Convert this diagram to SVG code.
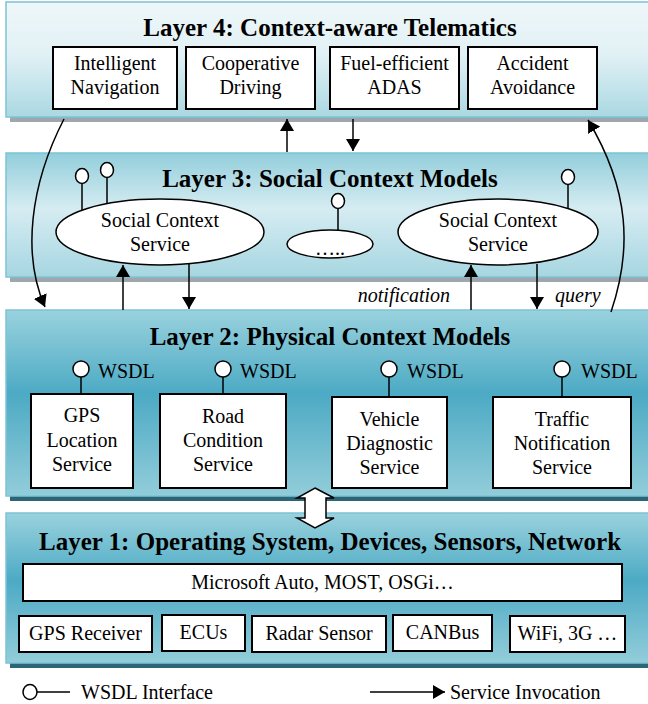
<svg xmlns="http://www.w3.org/2000/svg" width="648" height="704" viewBox="0 0 648 704">
  <defs>
    <linearGradient id="gLight" x1="0" y1="0" x2="0" y2="1">
      <stop offset="0" stop-color="#eef7f9"/>
      <stop offset="0.45" stop-color="#e2f1f5"/>
      <stop offset="1" stop-color="#aad8e2"/>
    </linearGradient>
    <linearGradient id="gMid" x1="0" y1="0" x2="0" y2="1">
      <stop offset="0" stop-color="#92cedb"/>
      <stop offset="0.45" stop-color="#d6ecf2"/>
      <stop offset="1" stop-color="#a6d6e1"/>
    </linearGradient>
    <linearGradient id="gDeep" x1="0" y1="0" x2="0" y2="1">
      <stop offset="0" stop-color="#9ad2de"/>
      <stop offset="0.45" stop-color="#4caac4"/>
      <stop offset="1" stop-color="#93cdda"/>
    </linearGradient>
    <marker id="head" viewBox="0 0 12 14" refX="12" refY="7" markerWidth="12" markerHeight="14" markerUnits="userSpaceOnUse" orient="auto">
      <path d="M0,0 L12,7 L0,14 z" fill="#000"/>
    </marker>
  </defs>
  <style>
    .panel { stroke: #7cc4d5; stroke-width: 1.5; }
    .shadowGrey { fill: #9ea7ac; }
    .shadowDark { fill: #2c6676; }
    .box { fill: #fff; stroke: #000; stroke-width: 2; }
    .oval { fill: #fff; stroke: #000; stroke-width: 1.5; }
    .pin { fill: #fff; stroke: #000; stroke-width: 1.5; }
    .stem { stroke: #000; stroke-width: 1.5; fill: none; }
    .title { font-family: "Liberation Serif", "Times New Roman", serif; font-weight: bold; font-size: 25px; text-anchor: middle; fill: #000; }
    .txt { font-family: "Liberation Serif", "Times New Roman", serif; font-size: 20px; text-anchor: middle; fill: #000; }
    .lbl { font-family: "Liberation Serif", "Times New Roman", serif; font-size: 20px; fill: #000; }
    .it { font-family: "Liberation Serif", "Times New Roman", serif; font-size: 20px; font-style: italic; fill: #000; }
    .conn { stroke: #000; stroke-width: 1.5; fill: none; marker-end: url(#head); }
  </style>

  <rect width="648" height="704" fill="#fff"/>

  <!-- Layer 4 -->
  <g id="layer4">
    <rect class="shadowGrey" x="10" y="117" width="640" height="5"/>
    <rect class="panel" x="6" y="2" width="650" height="115" fill="url(#gLight)"/>
    <text class="title" x="330" y="36">Layer 4: Context-aware Telematics</text>
  </g>
  <g id="intelligent-navigation">
    <rect class="box" x="53" y="47" width="124" height="62"/>
    <text class="txt" x="115" y="70">Intelligent</text>
    <text class="txt" x="115" y="94">Navigation</text>
  </g>
  <g id="cooperative-driving">
    <rect class="box" x="186" y="47" width="129" height="62"/>
    <text class="txt" x="250.5" y="70">Cooperative</text>
    <text class="txt" x="250.5" y="94">Driving</text>
  </g>
  <g id="fuel-efficient-adas">
    <rect class="box" x="330" y="47" width="129" height="62"/>
    <text class="txt" x="394.5" y="70">Fuel-efficient</text>
    <text class="txt" x="394.5" y="94">ADAS</text>
  </g>
  <g id="accident-avoidance">
    <rect class="box" x="468" y="47" width="129" height="62"/>
    <text class="txt" x="532.5" y="70">Accident</text>
    <text class="txt" x="532.5" y="94">Avoidance</text>
  </g>

  <!-- Layer 3 -->
  <g id="layer3">
    <rect class="shadowGrey" x="10" y="277" width="640" height="5"/>
    <rect class="panel" x="6" y="153" width="650" height="124" fill="url(#gMid)"/>
    <text class="title" x="330" y="187">Layer 3: Social Context Models</text>
  </g>
  <g id="social-service-left">
    <line class="stem" x1="82" y1="183.5" x2="82" y2="210"/>
    <line class="stem" x1="107" y1="177.5" x2="107" y2="204"/>
    <ellipse class="pin" cx="82" cy="176" rx="6.5" ry="7.5"/>
    <ellipse class="pin" cx="107" cy="170" rx="6.5" ry="7.5"/>
    <ellipse class="oval" cx="160" cy="232" rx="104" ry="33"/>
    <text class="txt" x="160" y="227">Social Context</text>
    <text class="txt" x="160" y="251">Service</text>
  </g>
  <g id="social-service-more">
    <line class="stem" x1="338" y1="208.5" x2="338" y2="230.5"/>
    <ellipse class="pin" cx="338" cy="201" rx="6.5" ry="7.5"/>
    <ellipse class="oval" cx="330" cy="244" rx="43" ry="14"/>
    <text class="txt" x="330" y="255">…..</text>
  </g>
  <g id="social-service-right">
    <line class="stem" x1="568" y1="184.5" x2="568" y2="208.5"/>
    <ellipse class="pin" cx="568" cy="177" rx="6.5" ry="7.5"/>
    <ellipse class="oval" cx="498" cy="232" rx="100" ry="33"/>
    <text class="txt" x="498" y="227">Social Context</text>
    <text class="txt" x="498" y="251">Service</text>
  </g>

  <!-- Layer 2 -->
  <g id="layer2">
    <rect class="shadowDark" x="10" y="496" width="640" height="5"/>
    <rect class="panel" x="6" y="310" width="650" height="186" fill="url(#gDeep)"/>
    <text class="title" x="330" y="345">Layer 2: Physical Context Models</text>
  </g>
  <g id="gps-location-service">
    <line class="stem" x1="81" y1="377" x2="81" y2="394"/>
    <circle class="pin" cx="81" cy="369" r="8"/>
    <text class="lbl" x="98" y="378">WSDL</text>
    <rect class="box" x="31" y="394" width="102" height="94"/>
    <text class="txt" x="82" y="422">GPS</text>
    <text class="txt" x="82" y="447">Location</text>
    <text class="txt" x="82" y="471">Service</text>
  </g>
  <g id="road-condition-service">
    <line class="stem" x1="223" y1="377" x2="223" y2="394"/>
    <circle class="pin" cx="223" cy="369" r="8"/>
    <text class="lbl" x="240" y="378">WSDL</text>
    <rect class="box" x="160" y="394" width="126" height="94"/>
    <text class="txt" x="223" y="423">Road</text>
    <text class="txt" x="223" y="447">Condition</text>
    <text class="txt" x="223" y="471">Service</text>
  </g>
  <g id="vehicle-diagnostic-service">
    <line class="stem" x1="389" y1="377" x2="389" y2="397"/>
    <circle class="pin" cx="389" cy="369" r="8"/>
    <text class="lbl" x="407" y="378">WSDL</text>
    <rect class="box" x="332" y="397" width="115" height="91"/>
    <text class="txt" x="389.5" y="426">Vehicle</text>
    <text class="txt" x="389.5" y="450">Diagnostic</text>
    <text class="txt" x="389.5" y="474">Service</text>
  </g>
  <g id="traffic-notification-service">
    <line class="stem" x1="562" y1="377" x2="562" y2="397"/>
    <circle class="pin" cx="562" cy="369" r="8"/>
    <text class="lbl" x="581" y="378">WSDL</text>
    <rect class="box" x="493" y="397" width="138" height="91"/>
    <text class="txt" x="562" y="426">Traffic</text>
    <text class="txt" x="562" y="450">Notification</text>
    <text class="txt" x="562" y="474">Service</text>
  </g>

  <!-- Layer 1 -->
  <g id="layer1">
    <rect class="shadowDark" x="10" y="663" width="640" height="5"/>
    <rect class="panel" x="6" y="513" width="650" height="150" fill="url(#gDeep)"/>
    <text class="title" x="330" y="550">Layer 1: Operating System, Devices, Sensors, Network</text>
  </g>
  <g id="platform">
    <rect class="box" x="23" y="564" width="599" height="37"/>
    <text class="txt" x="322.5" y="589">Microsoft Auto, MOST, OSGi…</text>
  </g>
  <g id="gps-receiver">
    <rect class="box" x="19" y="616" width="133" height="36"/>
    <text class="txt" x="85.5" y="640">GPS Receiver</text>
  </g>
  <g id="ecus">
    <rect class="box" x="162" y="615" width="83" height="36"/>
    <text class="txt" x="203.5" y="639">ECUs</text>
  </g>
  <g id="radar-sensor">
    <rect class="box" x="252" y="616" width="134" height="36"/>
    <text class="txt" x="319" y="640">Radar Sensor</text>
  </g>
  <g id="canbus">
    <rect class="box" x="393" y="615" width="99" height="36"/>
    <text class="txt" x="442.5" y="639">CANBus</text>
  </g>
  <g id="wireless">
    <rect class="box" x="510" y="616" width="115" height="36"/>
    <text class="txt" x="567.5" y="640">WiFi, 3G …</text>
  </g>

  <!-- Connectors -->
  <g id="connectors">
    <path class="conn" d="M64,119 C30,185 22,255 45,307"/>
    <path class="conn" d="M611,312 C632,250 630,190 588,120"/>
    <line class="conn" x1="287" y1="152" x2="287" y2="119"/>
    <line class="conn" x1="353" y1="119" x2="353" y2="151"/>
    <line class="conn" x1="123" y1="310" x2="123" y2="265"/>
    <line class="conn" x1="189" y1="264" x2="189" y2="309"/>
    <line class="conn" x1="471" y1="310" x2="471" y2="265"/>
    <line class="conn" x1="537" y1="264" x2="537" y2="309"/>
    <text class="it" x="450" y="302" text-anchor="end">notification</text>
    <text class="it" x="555" y="302">query</text>
    <path d="M315,488 L334,498 L326,498 L326,518 L334,518 L315,528 L297,518 L305,518 L305,498 L297,498 z" fill="#fff" stroke="#000" stroke-width="1.5"/>
  </g>

  <!-- Legend -->
  <g id="legend">
    <line class="stem" x1="37" y1="692" x2="70" y2="692"/>
    <ellipse class="pin" cx="30" cy="692" rx="7" ry="7.5"/>
    <text class="lbl" x="81" y="699">WSDL Interface</text>
    <line class="conn" x1="370" y1="692" x2="445" y2="692"/>
    <text class="lbl" x="450" y="699">Service Invocation</text>
  </g>
</svg>
